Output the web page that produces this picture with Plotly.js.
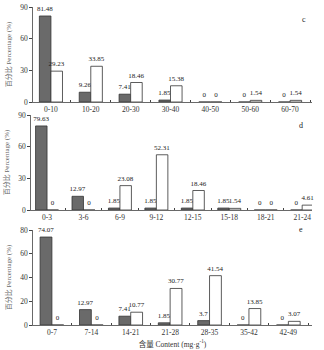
<!DOCTYPE html>
<html><head><meta charset="utf-8">
<script src="https://cdn.plot.ly/plotly-3.0.1.min.js"></script>
<style>html,body{margin:0;padding:0;background:#fff}#chart{width:324px;height:350px}</style>
</head><body><div id="chart"></div>
<script>
// Panel c
const catsC = ["0-10","10-20","20-30","30-40","40-50","50-60","60-70"];
const darkC = [81.48, 9.26, 7.41, 1.85, 0, 0, 0];
const whiteC = [29.23, 33.85, 18.46, 15.38, 0, 1.54, 1.54];
// Panel d
const catsD = ["0-3","3-6","6-9","9-12","12-15","15-18","18-21","21-24"];
const darkD = [79.63, 12.97, 1.85, 1.85, 1.85, 1.85, 0, 0];
const whiteD = [0, 0, 23.08, 52.31, 18.46, 1.54, 0, 4.61];
// Panel e
const catsE = ["0-7","7-14","14-21","21-28","28-35","35-42","42-49"];
const darkE = [74.07, 12.97, 7.41, 1.85, 3.7, 0, 0];
const whiteE = [0, 0, 10.77, 30.77, 41.54, 13.85, 3.07];

const FONT = "Liberation Serif, Times New Roman, serif";
const txtFont = {family: FONT, size: 7, color: "#222"};

function pair(cats, dark, white, xa, ya, w) {
  const common = {type:"bar", x:cats, xaxis:xa, yaxis:ya, width:w,
    textposition:"outside", cliponaxis:false, constraintext:"none",
    textfont:txtFont, insidetextfont:txtFont, outsidetextfont:txtFont, hoverinfo:"skip"};
  return [
    Object.assign({}, common, {y:dark, offset:-w, text:dark.map(String),
     marker:{color:"#6a6a6a", line:{color:"#333", width:0.8}}}),
    Object.assign({}, common, {y:white, offset:0, text:white.map(String),
     marker:{color:"#ffffff", line:{color:"#333", width:0.8}}})
  ];
}

const data = [
  ...pair(catsC, darkC, whiteC, "x", "y", 0.29),
  ...pair(catsD, darkD, whiteD, "x2", "y2", 0.315),
  ...pair(catsE, darkE, whiteE, "x3", "y3", 0.30)
];

const H = 350, W = 324;
const tickF = {family: FONT, size: 7.5, color: "#333"};
function xax(anchor, x0, range) {
  return {domain:[x0/W, 312/W], anchor:anchor, type:"category", range:range,
    showline:true, linecolor:"#444", linewidth:0.8, ticks:"inside", ticklen:2,
    tickcolor:"#444", tickson:"boundaries", tickfont:tickF, showgrid:false,
    zeroline:false, fixedrange:true};
}
function yax(anchor, top, bot, range, dtick) {
  return {domain:[1-bot/H, 1-top/H], anchor:anchor, range:range, dtick:dtick,
    showline:true, linecolor:"#444", linewidth:0.8, ticks:"outside", ticklen:3,
    tickcolor:"#444", tickfont:tickF, showgrid:false, zeroline:false,
    title:{text:"百分比 Percentage (%)", font:{family:"Liberation Serif, Noto Sans CJK SC", size:7, color:"#666"}, standoff:7}};
}

const layout = {
  width:W, height:H, margin:{l:0,r:0,t:0,b:0},
  paper_bgcolor:"#fff", plot_bgcolor:"#fff", showlegend:false, barmode:"overlay",
  uniformtext:{mode:false},
  xaxis: xax("y", 33, [-0.45, 6.55]),
  yaxis: yax("x", 7, 102, [0, 90], 30),
  xaxis2: xax("y2", 31, [-0.44, 7.27]),
  yaxis2: yax("x2", 115, 210, [0, 90], 30),
  xaxis3: Object.assign(xax("y3", 33, [-0.48, 6.6]), {
    title:{text:"含量 Content (mg·g<sup>-1</sup>)", font:{family:"Liberation Serif, Noto Sans CJK SC", size:7.5, color:"#333"}, standoff:5}}),
  yaxis3: yax("x3", 230, 325, [0, 80], 20),
  annotations: [
    {text:"c", x:308/W, y:1-13/H, xref:"paper", yref:"paper", showarrow:false, font:{family:FONT, size:8, color:"#222"}},
    {text:"d", x:305/W, y:1-125/H, xref:"paper", yref:"paper", showarrow:false, font:{family:FONT, size:8, color:"#222"}},
    {text:"e", x:305/W, y:1-236/H, xref:"paper", yref:"paper", showarrow:false, font:{family:FONT, size:8, color:"#222"}}
  ]
};
Plotly.newPlot("chart", data, layout, {staticPlot:true, displayModeBar:false});
</script></body></html>
